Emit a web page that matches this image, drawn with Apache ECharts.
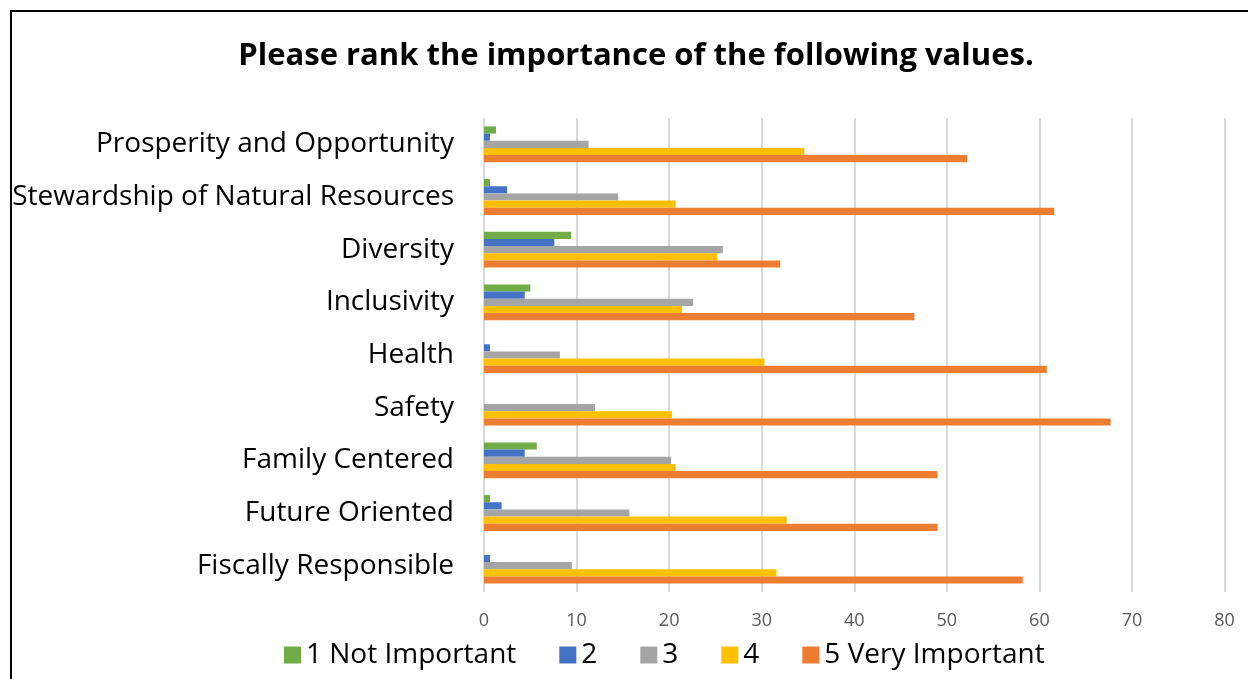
<!DOCTYPE html>
<html>
<head>
<meta charset="utf-8">
<script src="https://cdn.jsdelivr.net/npm/echarts@6/dist/echarts.min.js"></script>
<style>
  html, body { margin: 0; padding: 0; background: #fff; }
  #chart { width: 1248px; height: 679px; }
</style>
</head>
<body>
<div id="chart"></div>
<script>
// categories, top to bottom as shown
const categories = [
  "Prosperity and Opportunity",
  "Stewardship of Natural Resources",
  "Diversity",
  "Inclusivity",
  "Health",
  "Safety",
  "Family Centered",
  "Future Oriented",
  "Fiscally Responsible"
];
const seriesNames = ["1 Not Important", "2", "3", "4", "5 Very Important"];
const colors = ["#70AD47", "#4472C4", "#A5A5A5", "#FFC000", "#ED7D31"];

// values per rank, same order as categories
const rank1 = [1.3, 0.65, 9.4, 5.0, 0, 0, 5.7, 0.65, 0];
const rank2 = [0.65, 2.5, 7.6, 4.4, 0.65, 0, 4.4, 1.9, 0.65];
const rank3 = [11.3, 14.5, 25.8, 22.6, 8.2, 12.0, 20.2, 15.7, 9.5];
const rank4 = [34.6, 20.7, 25.2, 21.4, 30.3, 20.3, 20.7, 32.7, 31.6];
const rank5 = [52.2, 61.6, 32.0, 46.5, 60.8, 67.7, 49.0, 49.0, 58.2];
const allRanks = [rank1, rank2, rank3, rank4, rank5];

const xTicks = [0, 10, 20, 30, 40, 50, 60, 70, 80];

const myChart = echarts.init(document.getElementById("chart"));

const option = {
  backgroundColor: "#fff",
  animation: false,
  title: {
    text: "Please rank the importance of the following values.",
    left: 631,
    top: 36,
    textAlign: "center",
    textStyle: {
      fontFamily: "Open Sans",
      fontWeight: "bold",
      fontSize: 31,
      color: "#000"
    }
  },
  legend: {
    data: seriesNames,
    left: 279,
    top: 636,
    itemWidth: 17,
    itemHeight: 17,
    itemGap: 43,
    icon: "rect",
    textStyle: {
      fontFamily: "Open Sans",
      fontSize: 28,
      color: "#000",
      padding: [0, 0, 0, 0]
    }
  },
  graphic: [
    {
      type: "rect",
      silent: true,
      shape: { x: 11, y: 11, width: 1300, height: 800 },
      style: { fill: "none", stroke: "#000", lineWidth: 2 }
    }
  ],
  grid: {
    left: 484,
    right: 23.5,
    top: 118,
    bottom: 87
  },
  xAxis: {
    type: "value",
    min: xTicks[0],
    max: xTicks[xTicks.length - 1],
    interval: 10,
    axisLine: { show: false },
    axisTick: { show: false },
    splitLine: {
      show: true,
      lineStyle: { color: "#D9D9D9", width: 2 }
    },
    axisLabel: {
      fontFamily: "Open Sans",
      fontSize: 18,
      color: "#595959",
      margin: 20
    }
  },
  yAxis: {
    type: "category",
    inverse: true,
    data: categories,
    axisLine: { show: false },
    axisTick: { show: false },
    axisLabel: {
      fontFamily: "Open Sans",
      fontSize: 28,
      color: "#000",
      margin: 30
    }
  },
  series: seriesNames.map(function (name, i) {
    return {
      name: name,
      type: "bar",
      data: allRanks[i],
      barGap: "0%",
      barCategoryGap: "32%",
      itemStyle: { color: colors[i] }
    };
  })
};

myChart.setOption(option);
</script>
</body>
</html>
